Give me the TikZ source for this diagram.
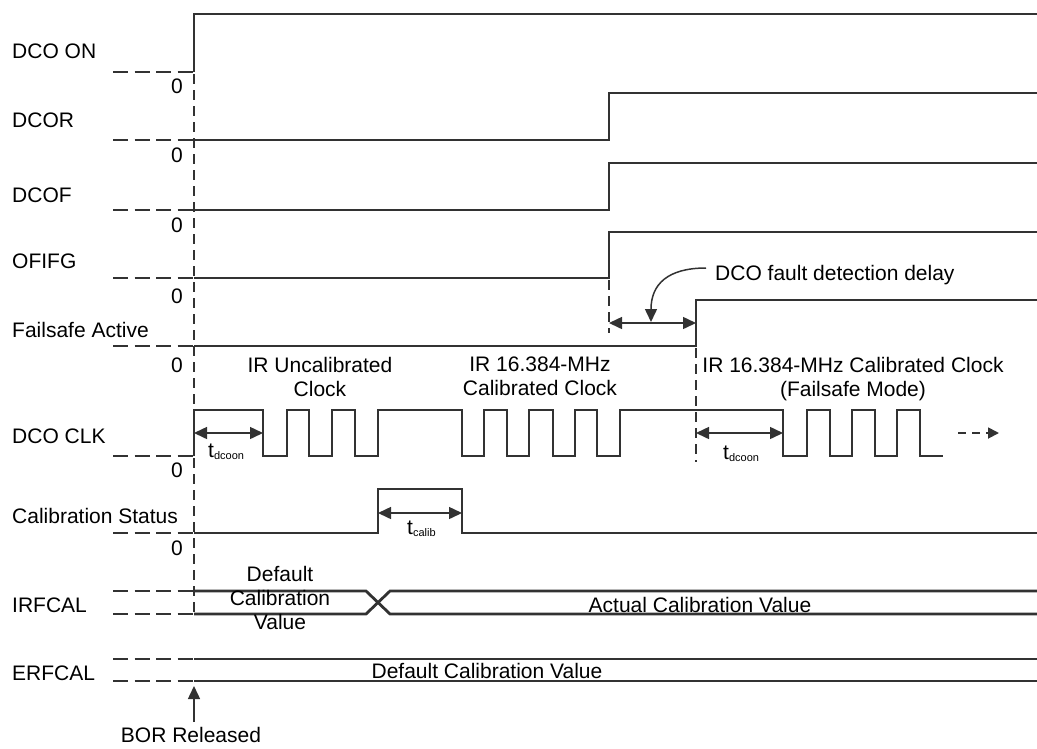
\documentclass[tikz,border=0pt]{standalone}
\usepackage{fontspec}
\setmainfont{Liberation Sans}
\usetikzlibrary{arrows.meta}
\definecolor{lc}{RGB}{50,50,50}
\newcommand{\sbs}[1]{\raisebox{-0.25ex}{\fontsize{11}{11}\selectfont #1}}
\tikzset{
  wave/.style={draw=lc, line width=2.8pt, line join=miter},
  base/.style={draw=lc, line width=2.4pt, dash pattern=on 15pt off 6.5pt},
  vdash/.style={draw=lc, line width=1.4pt, dash pattern=on 10pt off 6pt},
  lbl/.style={font=\fontsize{21}{24}\selectfont, inner sep=0pt, anchor=base west},
  txt/.style={font=\fontsize{21}{24}\selectfont, inner sep=0pt, anchor=base},
  dim/.style={draw=lc, line width=1.5pt, {Triangle[length=13pt,width=12pt]}-{Triangle[length=13pt,width=12pt]}},
  onearrow/.style={draw=lc, line width=1.5pt, -{Triangle[length=13pt,width=12pt]}},
}
\begin{document}
\begin{tikzpicture}[x=1pt,y=-1pt]
\useasboundingbox (0,0) rectangle (1037,748);

% signal labels
\node[lbl] (lDCOON) at (12,58) {DCO ON};
\node[lbl] (lDCOR) at (12,127) {DCOR};
\node[lbl] (lDCOF) at (12,202) {DCOF};
\node[lbl] (lOFIFG) at (12,268) {OFIFG};
\node[lbl] (lFS) at (12,337) {Failsafe Active};
\node[lbl] (lCLK) at (12,443) {DCO CLK};
\node[lbl] (lCS) at (12,523) {Calibration Status};
\node[lbl] (lIR) at (12,612) {IRFCAL};
\node[lbl] (lER) at (12,680) {ERFCAL};

% zero labels
\foreach \n/\y in {z1/93,z2/162,z3/232,z4/303,z5/372,z6/477,z7/555}
  \node[txt] (\n) at (177,\y) {0};

% dashed baselines
\foreach \y in {72,140,210,278,346,456,533,591,614,659,681}
  \draw[base] (113,\y) -- (194,\y);

% vertical dashed reference lines
\draw[vdash] (194,74) -- (194,615);
\draw[vdash] (609,280) -- (609,333);
\draw[vdash] (696,348) -- (696,462);

% waveforms
\draw[wave] (194,72) -- (194,14) -- (1037,14);
\draw[wave] (194,140) -- (609,140) -- (609,93) -- (1037,93);
\draw[wave] (194,210) -- (609,210) -- (609,163) -- (1037,163);
\draw[wave] (194,278) -- (609,278) -- (609,232) -- (1037,232);
\draw[wave] (194,346) -- (696,346) -- (696,300) -- (1037,300);
\draw[wave] (194,456) -- (194,410) -- (263,410) -- (263,456) -- (287,456) -- (287,410)
  -- (309,410) -- (309,456) -- (332,456) -- (332,410) -- (355,410) -- (355,456)
  -- (378,456) -- (378,410) -- (462,410) -- (462,456) -- (484,456) -- (484,410)
  -- (507,410) -- (507,456) -- (529,456) -- (529,410) -- (553,410) -- (553,456)
  -- (575,456) -- (575,410) -- (597,410) -- (597,456) -- (620,456) -- (620,410)
  -- (783,410) -- (783,456) -- (807,456) -- (807,410) -- (830,410) -- (830,456)
  -- (852,456) -- (852,410) -- (875,410) -- (875,456) -- (897,456) -- (897,410)
  -- (920,410) -- (920,456) -- (943,456);
\draw[wave] (194,533) -- (378,533) -- (378,489) -- (462,489) -- (462,533) -- (1037,533);
\draw[wave] (194,591) -- (366,591) -- (390,614) -- (1037,614);
\draw[wave] (194,614) -- (366,614) -- (390,591) -- (1037,591);
\draw[wave] (194,659) -- (1037,659);
\draw[wave] (194,681) -- (1037,681);

% continuation arrow
\coordinate (contA) at (958,433);
\coordinate (contB) at (999,433);
\draw[draw=lc, line width=1.8pt, dash pattern=on 8pt off 6pt, -{Triangle[length=11pt,width=11pt]}] (contA) -- (contB);

% timing dimensions
\coordinate (d1a) at (194,433); \coordinate (d1b) at (263,433);
\draw[dim] (d1a) -- (d1b);
\node[lbl] (td1) at (208,457) {t\sbs{dcoon}};
\coordinate (d2a) at (696,433); \coordinate (d2b) at (783,433);
\draw[dim] (d2a) -- (d2b);
\node[lbl] (td2) at (723,459) {t\sbs{dcoon}};
\coordinate (d3a) at (378,513); \coordinate (d3b) at (462,513);
\draw[dim] (d3a) -- (d3b);
\node[lbl] (tcal) at (407,534) {t\sbs{calib}};
\coordinate (d4a) at (609,323); \coordinate (d4b) at (696,323);
\draw[dim] (d4a) -- (d4b);

% fault detection delay annotation
\node[lbl] (fdd) at (715,280) {DCO fault detection delay};
\coordinate (fddS) at (706,268);
\coordinate (fddE) at (651,322);
\draw[onearrow] (fddS) .. controls (668,268) and (651,284) .. (fddE);

% region texts
\node[txt, align=center, anchor=north] (tUnc) at (320,357) {IR Uncalibrated\\Clock};
\node[txt, align=center, anchor=north] (tCal) at (540,357) {IR 16.384-MHz\\Calibrated Clock};
\node[txt, align=center, anchor=north] (tFs) at (853,357) {IR 16.384-MHz Calibrated Clock\\(Failsafe Mode)};
\node[txt, align=center, anchor=north] (tDef) at (280,566) {Default\\Calibration\\Value};
\node[txt] (tAct) at (700,612) {Actual Calibration Value};
\node[txt] (tDef2) at (487,678) {Default Calibration Value};

% BOR released
\node[txt] (bor) at (191,742) {BOR Released};
\coordinate (borTip) at (194,686);
\coordinate (borTail) at (194,722);
\draw[onearrow] (borTail) -- (borTip);
\end{tikzpicture}
\end{document}
